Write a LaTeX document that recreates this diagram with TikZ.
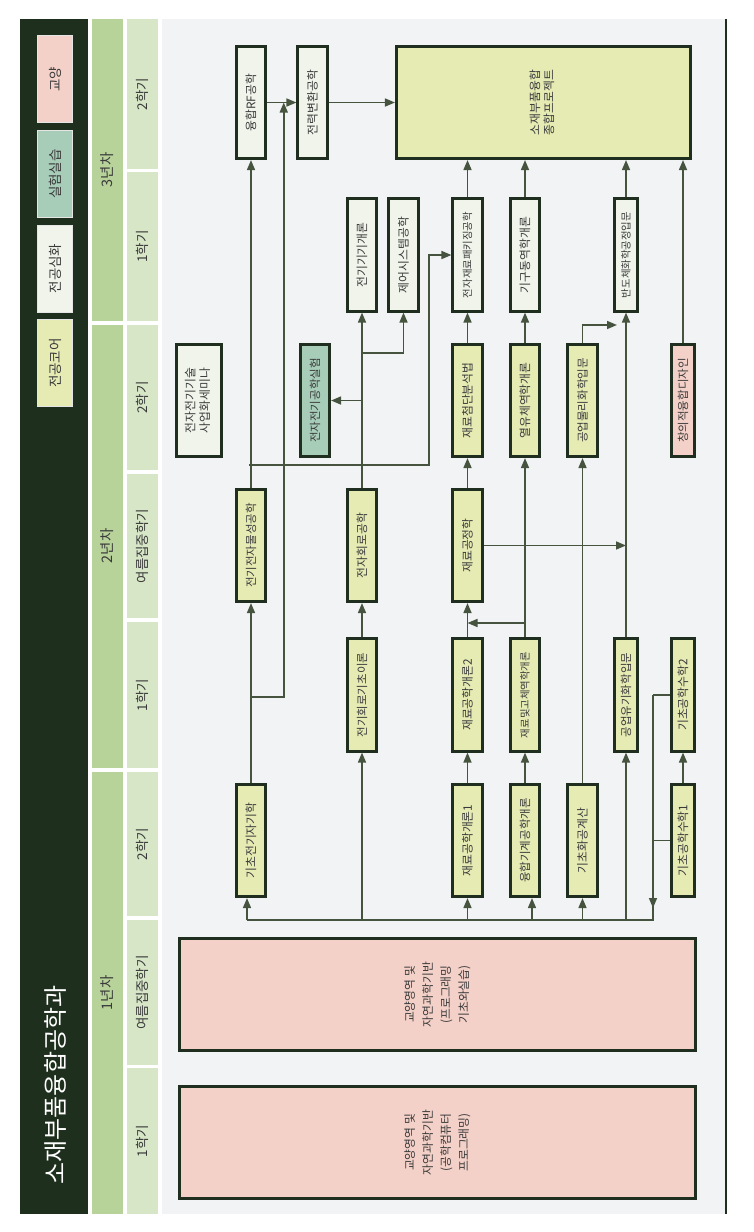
\documentclass[tikz,border=0pt]{standalone}
\usepackage{fontspec}
\setmainfont{Noto Sans CJK KR}
\usetikzlibrary{arrows.meta,calc}
\definecolor{darkc}{HTML}{1E2F1D}
\definecolor{bord}{HTML}{1F2E1F}
\definecolor{arrc}{HTML}{46543F}
\definecolor{corec}{HTML}{E6EBB4}
\definecolor{deepc}{HTML}{F0F4EA}
\definecolor{labc}{HTML}{A7CDB9}
\definecolor{libc}{HTML}{F4D1C8}
\definecolor{yearc}{HTML}{B8D39A}
\definecolor{semc}{HTML}{D8E6C8}
\definecolor{bgc}{HTML}{F1F3F5}
\definecolor{txtc}{HTML}{3A3A3A}
\newcommand\rtx[1]{\rotatebox{90}{#1}}
\newcommand\mlines[2]{\rotatebox{90}{\fontsize{11.8}{#1}\selectfont\begin{tabular}{@{}c@{}}#2\end{tabular}}}
\begin{document}
\begin{tikzpicture}[x=1pt,y=-1pt,
  course/.style={draw=bord,line width=2.6pt,inner sep=0pt,text=txtc,font=\fontsize{11.8}{14}\selectfont},
  ccore/.style={course,fill=corec},
  cdeep/.style={course,fill=deepc},
  clab/.style={course,fill=labc},
  clib/.style={course,fill=libc},
  nbox/.style={minimum width=29.5pt,minimum height=112.5pt},
  tbox/.style={minimum width=23.5pt,minimum height=112.5pt},
  fnine/.style={font=\fontsize{10.4}{12}\selectfont},
  feight/.style={font=\fontsize{11.5}{13}\selectfont},
  arr/.style={draw=arrc,line width=1.6pt,-{Triangle[length=10pt,width=8pt]}},
  ln/.style={draw=arrc,line width=1.6pt},
  legbox/.style={draw=white!80!gray,line width=1pt,inner sep=0pt,minimum width=35pt,minimum height=87pt,text=txtc,font=\fontsize{13.5}{15}\selectfont},
  bandlbl/.style={inner sep=0pt,text=txtc,font=\fontsize{13.5}{15}\selectfont},
  yearlbl/.style={inner sep=0pt,text=txtc,font=\fontsize{14.5}{16}\selectfont},
  titlelbl/.style={inner sep=0pt,text=white,font=\fontsize{24}{26}\selectfont}
]
\useasboundingbox (0,0) rectangle (754,1232);
\fill[white] (0,0) rectangle (754,1232);
% bands
\fill[darkc] (20,19) rectangle (88,1214);
\fill[yearc] (92,19) rectangle (123,321);
\fill[yearc] (92,325) rectangle (123,768);
\fill[yearc] (92,772) rectangle (123,1214);
\foreach \a/\b in {19/169,172/321,325/470,474/618,622/768,772/916,920/1065,1068/1214}
  \fill[semc] (127,\a) rectangle (158,\b);
\fill[bgc] (162,19) rectangle (725,1214);
\draw[bord,line width=2pt] (725.5,19) -- (725.5,1214);

% title and legend
\node[titlelbl] (title) at (55,1085) {\rtx{소재부품융합공학과}};
\node[legbox,fill=libc] (lg1) at (55,79) {\rtx{교양}};
\node[legbox,fill=labc] (lg2) at (55,174) {\rtx{실험실습}};
\node[legbox,fill=deepc] (lg3) at (55,268.5) {\rtx{전공심화}};
\node[legbox,fill=corec] (lg4) at (55,363) {\rtx{전공코어}};

% years
\node[yearlbl] (y3) at (107.5,170) {\rtx{3년차}};
\node[yearlbl] (y2) at (107.5,546) {\rtx{2년차}};
\node[yearlbl] (y1) at (107.5,993) {\rtx{1년차}};
% semesters
\node[bandlbl] (s1) at (142.5,94) {\rtx{2학기}};
\node[bandlbl] (s2) at (142.5,246.5) {\rtx{1학기}};
\node[bandlbl] (s3) at (142.5,397.5) {\rtx{2학기}};
\node[bandlbl] (s4) at (142.5,546) {\rtx{여름집중학기}};
\node[bandlbl] (s5) at (142.5,695) {\rtx{1학기}};
\node[bandlbl] (s6) at (142.5,844) {\rtx{2학기}};
\node[bandlbl] (s7) at (142.5,992.5) {\rtx{여름집중학기}};
\node[bandlbl] (s8) at (142.5,1141) {\rtx{1학기}};

% courses
\node[ccore,minimum width=294.5pt,minimum height=112.5pt] (big) at (543.5,102.5) {\mlines{14}{소재부품융합\\종합프로젝트}};
\node[cdeep,nbox] (rf) at (251,102.5) {\rtx{융합RF공학}};
\node[cdeep,nbox] (pc) at (312.5,102.5) {\rtx{전력변환공학}};
\node[cdeep,nbox] (mach) at (362,255) {\rtx{전기기기개론}};
\node[cdeep,nbox] (ctrl) at (403.5,255) {\rtx{제어시스템공학}};
\node[cdeep,nbox,fnine] (pack) at (467.5,255) {\rtx{전자재료패키징공학}};
\node[cdeep,nbox] (kin) at (525,255) {\rtx{기구동역학개론}};
\node[cdeep,tbox,fnine] (semi) at (626,255) {\rtx{반도체화학공정입문}};
\node[cdeep,minimum width=45.5pt,minimum height=112.5pt] (sem) at (199,400.5) {\mlines{14.5}{전자전기기술\\사업화세미나}};
\node[clab,nbox,feight] (lab) at (315,400.5) {\rtx{전자전기공학실험}};
\node[ccore,nbox] (anal) at (467.5,400.5) {\rtx{재료첨단분석법}};
\node[ccore,nbox] (fluid) at (525,400.5) {\rtx{열유체역학개론}};
\node[ccore,nbox,feight] (pchem) at (582.5,400.5) {\rtx{공업물리화학입문}};
\node[clib,tbox,feight] (crea) at (683,400.5) {\rtx{창의적융합디자인}};
\node[ccore,nbox,feight] (phys) at (251,545.5) {\rtx{전기전자물성공학}};
\node[ccore,nbox] (ecirc) at (362,545.5) {\rtx{전자회로공학}};
\node[ccore,nbox] (proc) at (467.5,545.5) {\rtx{재료공정학}};
\node[ccore,nbox,feight] (circ) at (362,695) {\rtx{전기회로기초이론}};
\node[ccore,nbox] (m2) at (467.5,695) {\rtx{재료공학개론2}};
\node[ccore,nbox,fnine] (solid) at (525,695) {\rtx{재료및고체역학개론}};
\node[ccore,tbox,feight] (ochem) at (626,695) {\rtx{공업유기화학입문}};
\node[ccore,tbox] (bm2) at (683,695) {\rtx{기초공학수학2}};
\node[ccore,nbox] (emag) at (251,840.5) {\rtx{기초전기자기학}};
\node[ccore,nbox] (m1) at (467.5,840.5) {\rtx{재료공학개론1}};
\node[ccore,nbox,feight] (mech) at (525,840.5) {\rtx{융합기계공학개론}};
\node[ccore,nbox] (chemc) at (582.5,840.5) {\rtx{기초화공계산}};
\node[ccore,tbox] (bm1) at (683,840.5) {\rtx{기초공학수학1}};
\node[clib,minimum width=516.5pt,minimum height=112.5pt] (gen2) at (437.5,994.5) {\mlines{18}{교양영역 및\\자연과학기반\\(프로그래밍\\기초와실습)}};
\node[clib,minimum width=516.5pt,minimum height=112.5pt] (gen1) at (437.5,1142.5) {\mlines{18}{교양영역 및\\자연과학기반\\(공학컴퓨터\\프로그래밍)}};

% connectors
\draw[arr] (rf.east) -- (pc.west);
\draw[arr] (pc.east) -- (big.west);
\draw[arr] (emag.north) -- (phys.south);
\draw[arr] (phys.north) -- (rf.south);
\coordinate (j1) at (251,697);
\coordinate (rfpc) at ($(rf.east)!0.5!(pc.west)+(2,0)$);
\draw[arr] (j1) -| (rfpc);
\coordinate (j2) at (249,465);
\coordinate (j2b) at (429,465);
\draw[arr] (j2) -- (j2b) |- (pack.west);
\draw[arr] (circ.north) -- (ecirc.south);
\draw[arr] (ecirc.north) -- (mach.south);
\coordinate (j3) at (362,353);
\draw[arr] (j3) -| (ctrl.south);
\coordinate (j4) at (362,400.5);
\draw[arr] (j4) -- (lab.east);
\draw[arr] (m1.north) -- (m2.south);
\draw[arr] (m2.north) -- (proc.south);
\draw[arr] (proc.north) -- (anal.south);
\draw[arr] (anal.north) -- (pack.south);
\draw[arr] (pack.north) -- (pack.north |- big.south);
\draw[arr] (mech.north) -- (solid.south);
\draw[arr] (solid.north) -- (fluid.south);
\coordinate (j5) at (525,623);
\draw[arr] (j5) -- (m2.north |- j5);
\draw[arr] (fluid.north) -- (kin.south);
\draw[arr] (kin.north) -- (kin.north |- big.south);
\draw[arr] (chemc.north) -- (pchem.south);
\coordinate (j7) at (617,325);
\draw[arr] (pchem.north) |- (j7);
\draw[arr] (ochem.north) -- (semi.south);
\draw[arr] (semi.north) -- (semi.north |- big.south);
\draw[arr] (crea.north) -- (crea.north |- big.south);
\draw[arr] (proc.east) -- (proc.east -| ochem.north);
\draw[arr] (bm1.north) -- (bm2.south);
% bus
\coordinate (bR) at (653,920);
\coordinate (bL) at (247,920);
\coordinate (bArr) at (653,908);
\draw[ln] (bm2.west) -- (bm2.west -| bR);
\draw[ln] (bm1.west) -- (bm1.west -| bR);
\draw[arr] (bm2.west -| bR) -- (bArr);
\draw[ln] (653,905) -- (bR) -- (bL);
\draw[arr] (bL) -- ($(emag.south)+(-4,0)$);
\draw[arr] (circ.south |- bR) -- (circ.south);
\draw[arr] (m1.south |- bR) -- (m1.south);
\draw[arr] ($(mech.south |- bR)+(7,0)$) -- ($(mech.south)+(7,0)$);
\draw[arr] (chemc.south |- bR) -- (chemc.south);
\draw[arr] (ochem.south |- bR) -- (ochem.south);
\end{tikzpicture}
\end{document}
